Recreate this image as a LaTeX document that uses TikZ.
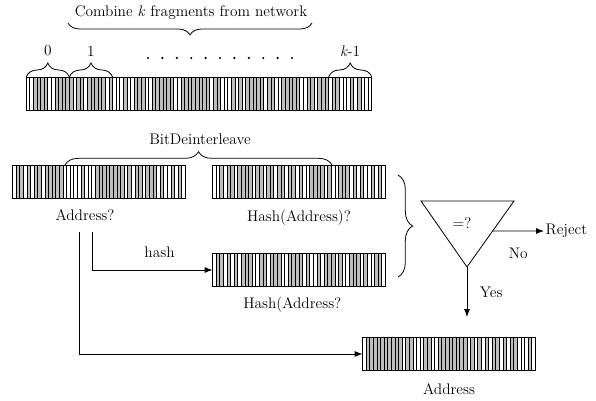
\documentclass[tikz,border=0pt]{standalone}
\usepackage{tikz}
\usetikzlibrary{arrows.meta,positioning,calc,decorations.pathreplacing}
\definecolor{cellgray}{RGB}{190,190,190}
\tikzset{bitbar/.style={inner sep=0pt,outer sep=0pt,minimum height=24.75pt},
brc/.style={decorate,decoration={brace,amplitude=#1}}}
% a row of bit cells: name, centre, number of cells, grey cells
\newcommand{\bitrow}[4]{%
\node[bitbar,minimum width=#3*2.7pt](#1) at #2 {};
\foreach \g in {#4}{\fill[cellgray]($(#1.north west)+(\g*2.7pt-2.7pt,0)$) rectangle ($(#1.south west)+(\g*2.7pt,0)$);}
\pgfmathtruncatemacro{\nlast}{#3-1}
\foreach \c in {1,...,\nlast}{\draw[line width=0.5pt]($(#1.north west)+(\c*2.7pt,0)$)--($(#1.south west)+(\c*2.7pt,0)$);}
\draw[line width=0.6pt](#1.north west) rectangle (#1.south east);}

\begin{document}
\begin{tikzpicture}[x=0.75pt,y=-0.75pt,>={Latex[length=6pt,width=4.5pt]},line width=0.6pt,every node/.style={font=\fontsize{11.5}{13}\selectfont}]
\useasboundingbox (0,0) rectangle (596,400);
\bitrow{net}{(199,93.5)}{96}{3,4,5,6,9,10,11,12,13,15,16,18,19,20,21,22,24,28,31,32,33,36,37,38,39,40,41,44,45,46,47,48,49,50,51,53,54,58,60,62,63,64,65,66,68,69,72,73,74,75,76,79,80,82,83,84,86,87,91,93}
\bitrow{addr}{(99,181.5)}{48}{2,3,5,7,8,10,11,12,13,14,20,24,25,26,27,28,29,30,31,33,35,36,38,39,40,42,45,47}
\bitrow{hashaddr}{(299,181.5)}{48}{3,5,6,8,9,10,11,13,14,16,17,19,20,22,23,25,28,29,30,31,33,36,37,38,40,42,45,47}
\bitrow{hcalc}{(299,270)}{48}{2,3,5,7,9,10,11,14,15,17,18,19,22,23,24,25,27,30,32,33,34,36,39,40,41,43,46,47}
\bitrow{address}{(449,354)}{48}{2,3,4,5,6,7,8,9,10,11,13,14,18,19,22,23,24,25,26,27,28,29,31,33,35,37,38,40,42,43,47}
% fragments of the network word
\draw[brc=10.5pt](net.north west)--++(32.4pt,0) node[midway,above=12pt](f0){0};
\draw[brc=10.5pt]($(net.north west)+(32.4pt,0)$)--++(32.4pt,0) node[midway,above=12pt](f1){1};
\draw[brc=10.5pt]($(net.north east)+(-32.4pt,0)$)--(net.north east) node[midway,above=12pt](fk){\textit{k}-1};
\foreach \i in {0,...,10}{\fill(148+14.4*\i,58) circle (0.9pt);}
\draw[brc=9pt](312,23)--(68,23);
\node(comb) at (191,13){Combine \textit{k} fragments from network};
\draw[brc=10pt](65,165)--(332,165);
\node(bdi) at (200,139){BitDeinterleave};
% labels under the rows
\node[below=5pt of addr,xshift=-10.5pt](addrlbl){Address?};
\node[below=5pt of hashaddr](hashlbl){Hash(Address)?};
\node[below=4pt of hcalc,xshift=-5pt](hcalclbl){Hash(Address?};
\node[below=6pt of address](addresslbl){Address};
% compare
\draw[brc=11pt](398,175)--(398,277);
\coordinate(ta) at (421,201); \coordinate(tc) at (514,201); \coordinate(tb) at (467,267);
\draw(ta)--(tc)--(tb)--cycle;
\node(eq) at (462,223){=?};
\coordinate(tno) at ($(tc)!0.4545!(tb)$);
\node[anchor=west,inner sep=1pt](reject) at (544,231){Reject};
\draw[->](tno)--(reject) node[midway,below=9pt]{No};
\coordinate(yesend) at (467,317);
\draw[->](tb)--(yesend) node[midway,right=6pt]{Yes};
\coordinate(hstart) at (92,232); \coordinate(lstart) at (79,232);
\draw[->](hstart)|-(hcalc.west) node[pos=0.78,above=6pt]{hash};
\draw[->](lstart)|-(address.west);
\end{tikzpicture}
\end{document}
